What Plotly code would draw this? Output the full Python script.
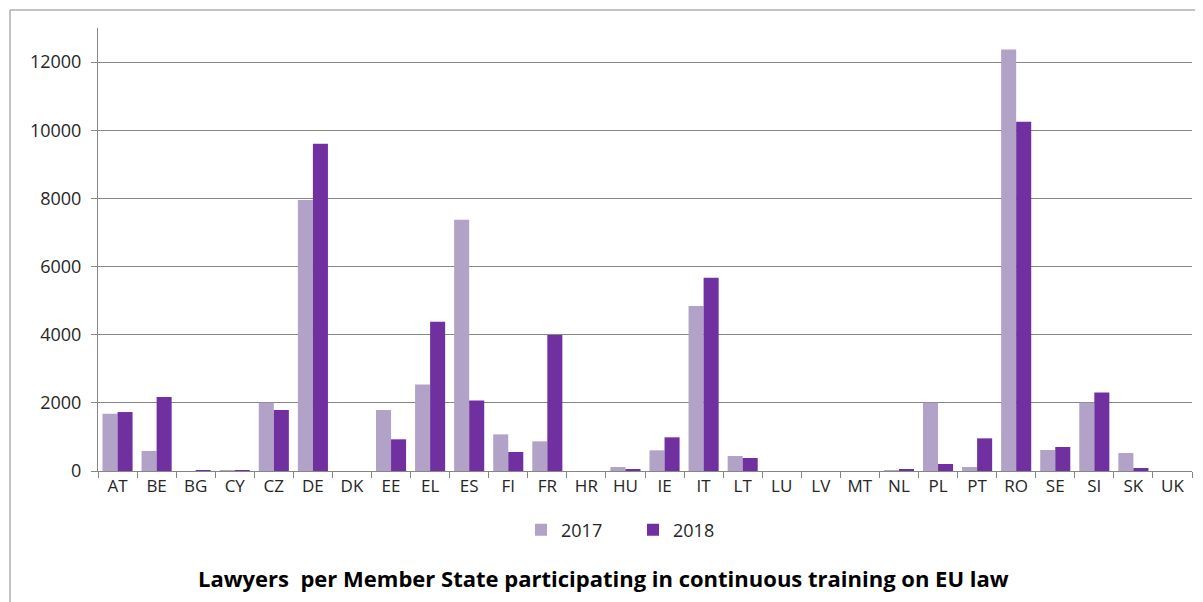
import plotly.graph_objects as go

countries = ["AT", "BE", "BG", "CY", "CZ", "DE", "DK", "EE", "EL", "ES", "FI", "FR", "HR", "HU",
             "IE", "IT", "LT", "LU", "LV", "MT", "NL", "PL", "PT", "RO", "SE", "SI", "SK", "UK"]
values_2017 = [1680, 590, 0, 15, 2000, 7950, 0, 1790, 2540, 7370, 1075, 870, 0, 117,
               607, 4840, 440, 0, 0, 0, 20, 2000, 117, 12370, 616, 2000, 528, 0]
values_2018 = [1730, 2170, 20, 20, 1790, 9600, 0, 930, 4380, 2070, 557, 3990, 0, 30,
               988, 5670, 381, 0, 0, 0, 30, 205, 958, 10250, 704, 2307, 88, 0]
y_ticks = [0, 2000, 4000, 6000, 8000, 10000, 12000]
y_tick_labels = ["0", "2000", "4000", "6000", "8000", "10000", "12000"]
title_text = "Lawyers  per Member State participating in continuous training on EU law"

FONT = "Open Sans"
GRID = "#868686"
TXT = "#262626"

fig = go.Figure()
fig.add_trace(go.Bar(name="2017", x=countries, y=values_2017, marker_color="#B3A2C7",
                     marker_line_width=0))
fig.add_trace(go.Bar(name="2018", x=countries, y=values_2018, marker_color="#7030A0",
                     marker_line_width=0))

# page body has an 8px margin, so the figure is drawn 8px smaller and offset
OFF = 8
W, H = 1203 - OFF, 602 - OFF
L = 98 - OFF
T = 28 - OFF
R = W - (1192 - OFF)
B = H - (471 - OFF)
pw, ph = W - L - R, H - T - B


def px_x(page_x):
    return (page_x - OFF - L) / pw


def px_y(page_y):
    return (H - B - (page_y - OFF)) / ph


fig.update_layout(
    width=W, height=H,
    margin=dict(l=L, r=R, t=T, b=B),
    paper_bgcolor="white", plot_bgcolor="white",
    barmode="group", bargap=0.23, bargroupgap=0,
    font=dict(family=FONT, size=18, color=TXT),
    showlegend=True,
    legend=dict(orientation="h", x=px_x(521), xanchor="left", y=px_y(530), yanchor="middle",
                font=dict(family=FONT, size=18, color=TXT), itemwidth=30,
                entrywidth=67, entrywidthmode="pixels", bgcolor="rgba(0,0,0,0)"),
    xaxis=dict(type="category", showline=True, linecolor=GRID, linewidth=1,
               ticks="outside", tickson="boundaries", ticklen=6, tickcolor=GRID,
               showgrid=False, tickfont=dict(family=FONT, size=17, color=TXT)),
    yaxis=dict(range=[0, 13000], tickvals=y_ticks, ticktext=y_tick_labels,
               showline=True, linecolor=GRID, linewidth=1,
               ticks="outside", ticklen=6, tickcolor=GRID, showgrid=True, gridcolor=GRID,
               gridwidth=1, zeroline=False, ticklabelstandoff=6,
               tickfont=dict(family=FONT, size=18, color=TXT)),
    annotations=[dict(text="<b>" + title_text + "</b>", xref="paper", yref="paper",
                      x=px_x(603), y=px_y(578), xanchor="center", yanchor="middle",
                      showarrow=False, font=dict(family=FONT, size=22, color="#000000"))],
    shapes=[
        dict(type="line", xref="paper", yref="paper", x0=px_x(10), x1=px_x(1203),
             y0=px_y(10), y1=px_y(10), line=dict(color=GRID, width=1)),
        dict(type="line", xref="paper", yref="paper", x0=px_x(10), x1=px_x(10),
             y0=px_y(10), y1=px_y(602), line=dict(color=GRID, width=1)),
    ],
)

fig.write_html("out.html")
